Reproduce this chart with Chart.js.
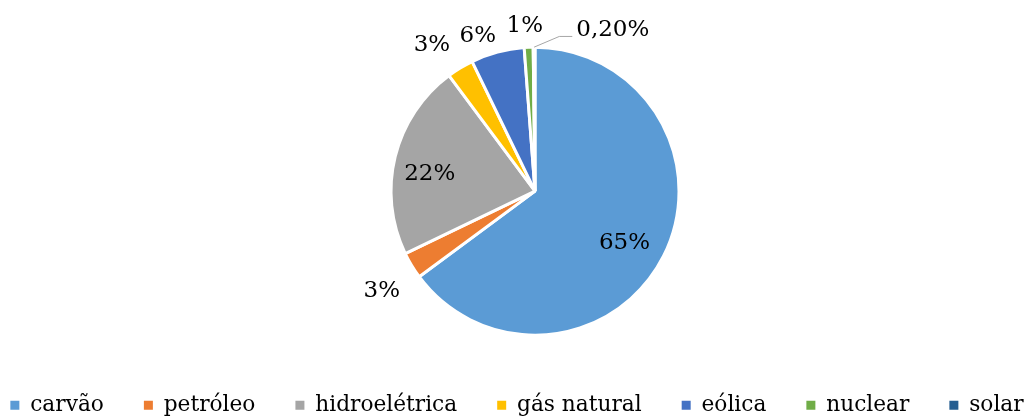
<!DOCTYPE html>
<html>
<head>
<meta charset="utf-8">
<script src="https://cdn.jsdelivr.net/npm/chart.js@4.4.1/dist/chart.umd.min.js"></script>
<style>
  html, body { margin: 0; padding: 0; background: #ffffff; }
  #wrap { width: 1034px; height: 419px; }
</style>
</head>
<body>
<div id="wrap"><canvas id="c" width="1034" height="419"></canvas></div>
<script>
// Electricity generation mix
const categories = ['carvão', 'petróleo', 'hidroelétrica', 'gás natural', 'eólica', 'nuclear', 'solar'];
const shares = [65, 3, 22, 3, 6, 1, 0.2];
const shareLabels = ['65%', '3%', '22%', '3%', '6%', '1%', '0,20%'];
const sliceColors = ['#5B9BD5', '#ED7D31', '#A5A5A5', '#FFC000', '#4472C4', '#70AD47', '#255E91'];

const FONT = 'DejaVu Serif';

// Empty box on the left so the pie sits slightly right of the legend's centre
const leftGutter = {
  id: 'leftGutter',
  beforeInit(chart, args, opts) {
    const w = opts.width || 0;
    Chart.layouts.addBox(chart, {
      position: 'left',
      weight: 0,
      fullSize: false,
      options: {},
      isHorizontal() { return false; },
      update(maxWidth, maxHeight) { this.width = w; this.height = maxHeight; },
      draw() {}
    });
  }
};

// Percentage labels placed relative to each arc
const sliceLabels = {
  id: 'sliceLabels',
  afterDatasetsDraw(chart, args, opts) {
    const ctx = chart.ctx;
    const meta = chart.getDatasetMeta(0);
    ctx.save();
    ctx.font = opts.size + 'px "' + opts.family + '"';
    ctx.textAlign = 'center';
    ctx.textBaseline = 'middle';
    meta.data.forEach((arc, i) => {
      const p = arc.getProps(['x', 'y', 'startAngle', 'endAngle', 'outerRadius'], true);
      const mid = (p.startAngle + p.endAngle) / 2;
      const a = mid + (opts.nudge[i] || 0) * Math.PI / 180;
      const r = p.outerRadius * opts.radius[i];
      const lx = p.x + Math.cos(a) * r;
      const ly = p.y + Math.sin(a) * r;
      const text = shareLabels[i];
      if (opts.leader[i]) {
        const w = ctx.measureText(text).width;
        const sx = p.x + Math.cos(mid) * p.outerRadius;
        const sy = p.y + Math.sin(mid) * p.outerRadius;
        const ex = lx - w / 2 - 4;
        const ey = ly + 6;
        ctx.beginPath();
        ctx.moveTo(sx, sy);
        ctx.lineTo(ex - 13, ey);
        ctx.lineTo(ex, ey);
        ctx.strokeStyle = opts.leaderColor;
        ctx.lineWidth = 1;
        ctx.stroke();
      }
      ctx.fillStyle = opts.color;
      ctx.fillText(text, lx, ly);
    });
    ctx.restore();
  }
};

const baseLegendLabels = Chart.overrides.doughnut.plugins.legend.labels.generateLabels;

new Chart(document.getElementById('c'), {
  type: 'pie',
  data: {
    labels: categories,
    datasets: [{
      data: shares,
      backgroundColor: sliceColors,
      borderColor: '#ffffff',
      borderWidth: 3,
      hoverOffset: 0,
      offset: 0,
      radius: 144
    }]
  },
  plugins: [leftGutter, sliceLabels],
  options: {
    responsive: false,
    animation: false,
    layout: { padding: { top: 28, bottom: -7, left: -50, right: -50 } },
    plugins: {
      leftGutter: { width: 86 },
      sliceLabels: {
        family: FONT,
        size: 23,
        color: '#000000',
        leaderColor: '#A6A6A6',
        radius: [0.72, 1.27, 0.74, 1.24, 1.15, 1.15, 1.24],
        nudge: [3.5, -2, -4.7, -4, -5.1, -1, 26.2],
        leader: [false, false, false, false, false, false, true]
      },
      tooltip: { enabled: false },
      legend: {
        position: 'bottom',
        labels: {
          boxWidth: 9,
          boxHeight: 9,
          padding: 40,
          color: '#000000',
          font: { family: FONT, size: 21.7 },
          generateLabels(chart) {
            const items = baseLegendLabels(chart);
            items.forEach(it => { it.lineWidth = 0; it.strokeStyle = 'rgba(0,0,0,0)'; });
            return items;
          }
        }
      }
    }
  }
});
</script>
</body>
</html>
